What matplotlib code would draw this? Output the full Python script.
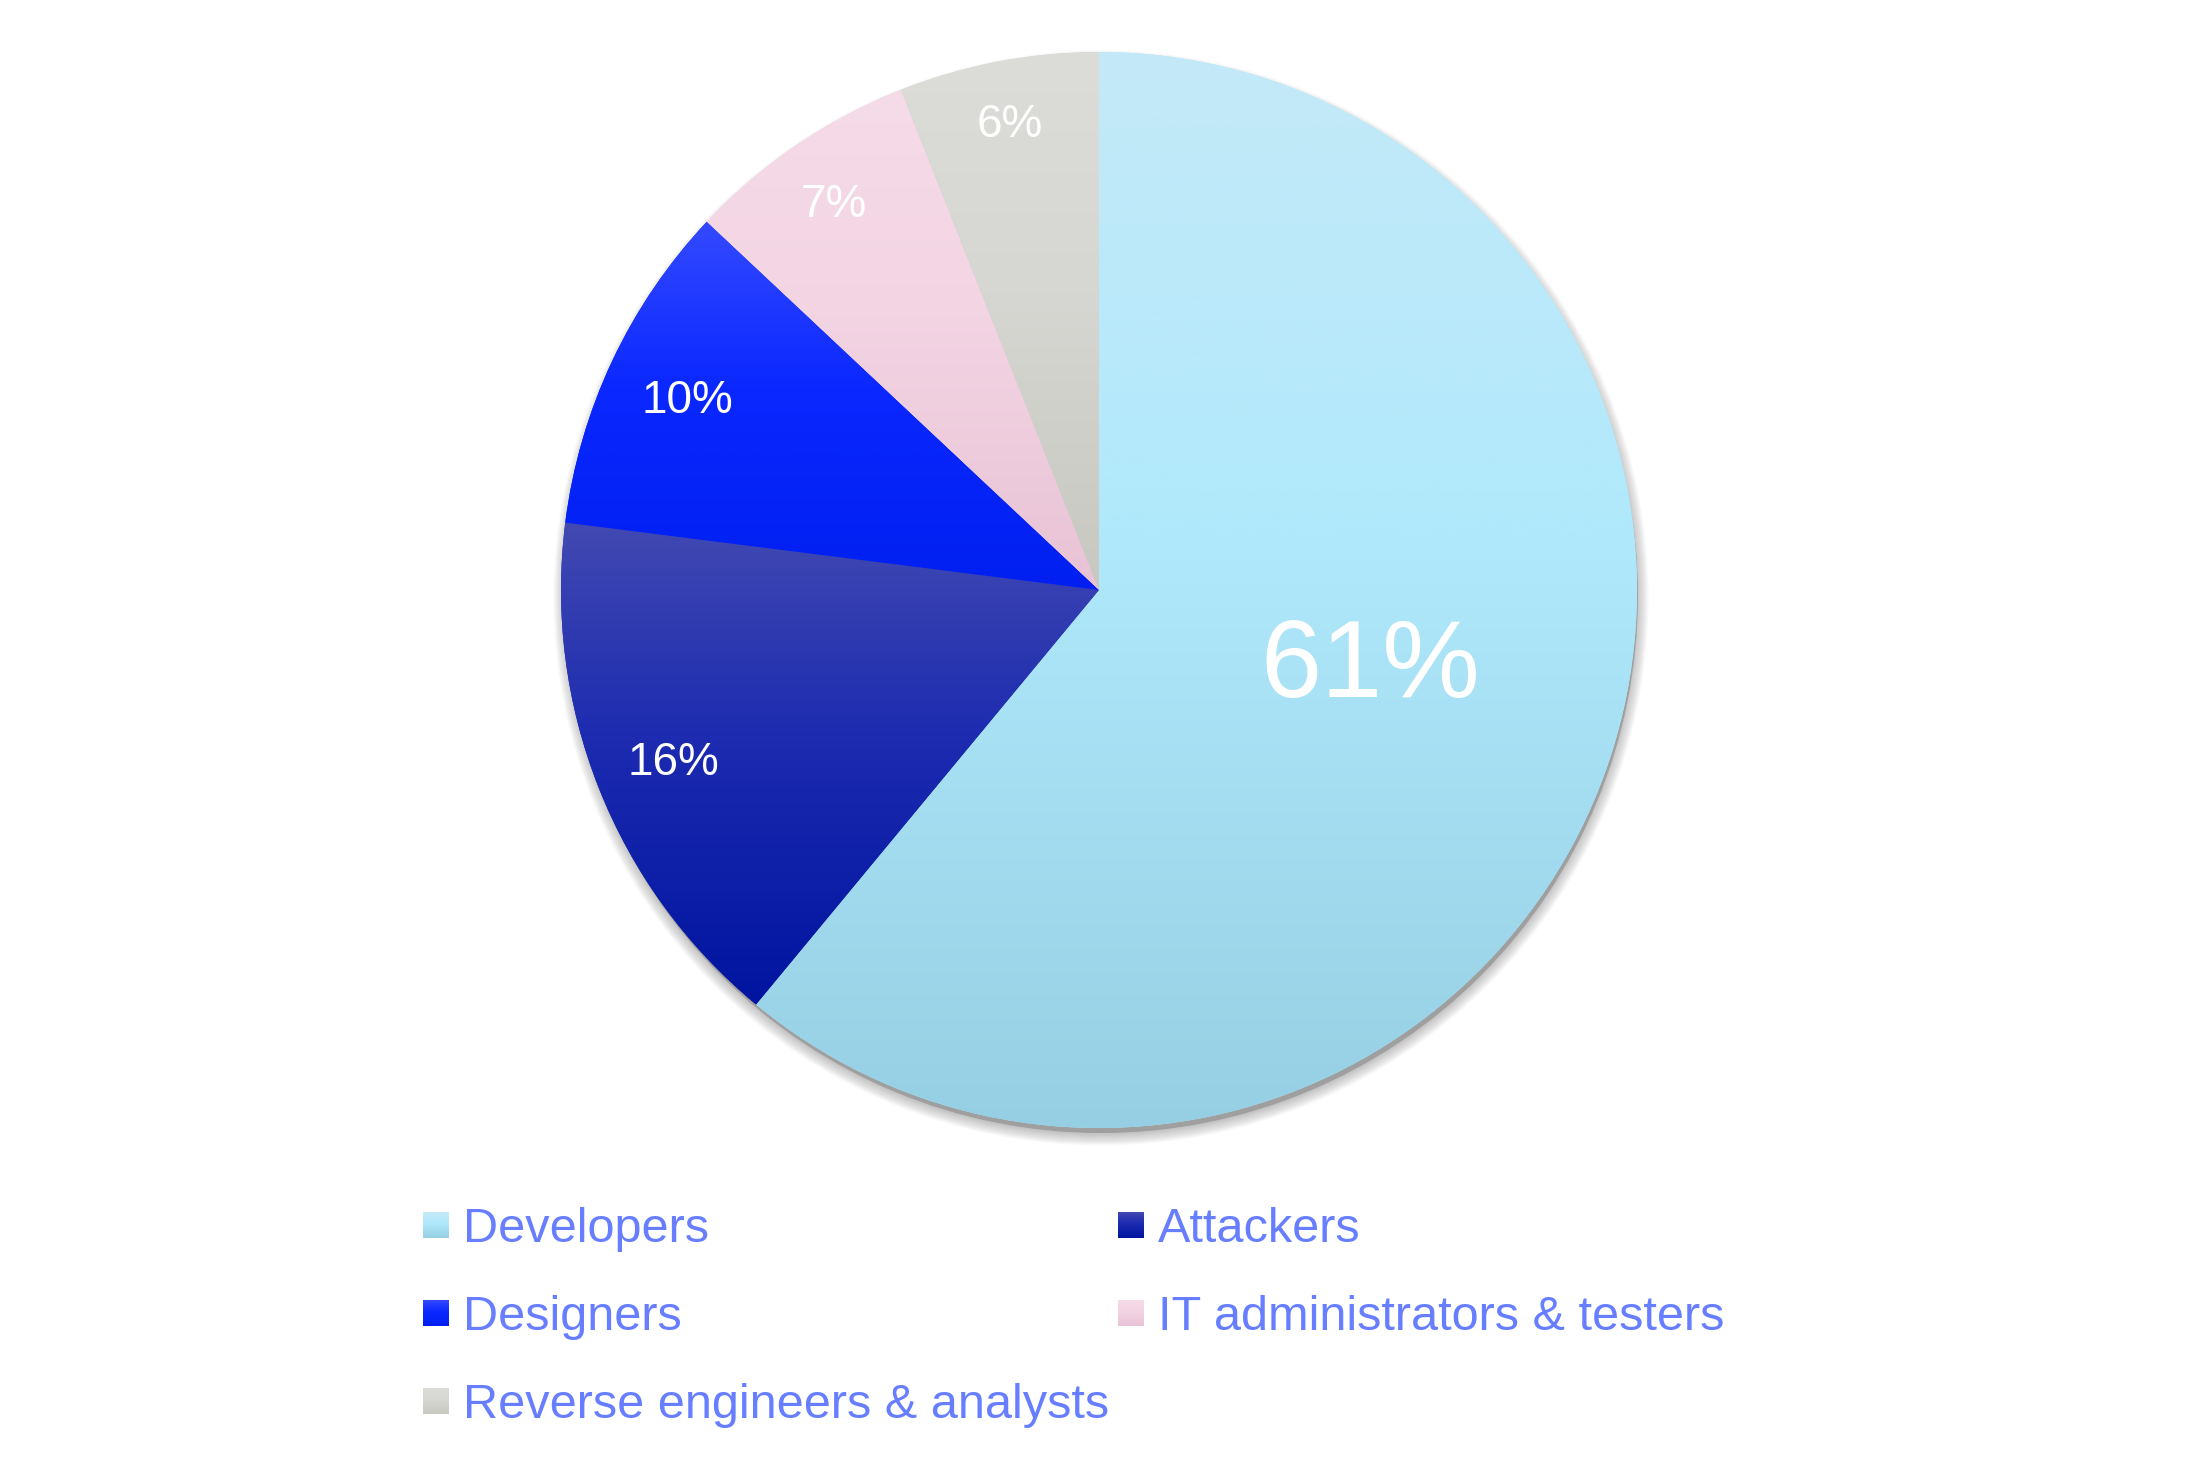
import numpy as np
import matplotlib
matplotlib.use("Agg")
import matplotlib.pyplot as plt
from matplotlib.colors import to_rgb
from matplotlib.patches import Circle

# ---- data ----
categories = ["Developers", "Attackers", "Designers",
              "IT administrators & testers", "Reverse engineers & analysts"]
shares = [61, 16, 10, 7, 6]
# gradient colours (top -> bottom) for each slice
grad_top = ["#c4e9f8", "#4249b2", "#3449ff", "#f6dbe8", "#dcdcd8"]
grad_mid = ["#b0e9fc", "#1c2bb0", "#0a28ff", "#f3d4e3", "#d6d6d2"]
grad_bot = ["#96cfe3", "#0014a0", "#001ff0", "#e8c3d5", "#c8c8c1"]

plt.rcParams['font.family'] = ['Liberation Sans', 'DejaVu Sans']

W, H = 2200, 1466
fig = plt.figure(figsize=(11, 7.33), dpi=200)
ax = fig.add_axes([0, 0, 1, 1])

cx, cy, R = 1099, H - 590, 538


def gradient_img(top, mid, bot, n=256):
    t = np.linspace(0, 1, n)[:, None]
    a, b, c = np.array(to_rgb(top)), np.array(to_rgb(mid)), np.array(to_rgb(bot))
    img = np.where(t < 0.45, a + (b - a) * (t / 0.45), b + (c - b) * ((t - 0.45) / 0.55))
    return img[:, None, :]


# soft shadow (mostly below the pie)
for d in range(14, 0, -1):
    ax.add_patch(Circle((cx + 2, cy - 8), R - 3 + d * 0.9, color="#404040",
                        alpha=0.025, lw=0, zorder=1))
ax.add_patch(Circle((cx + 2, cy - 6), R - 1, color="#606060", alpha=0.35, lw=0, zorder=1))

wedges, texts, autotexts = ax.pie(
    shares, startangle=90, counterclock=False, center=(cx, cy), radius=R,
    colors=grad_mid, autopct='%.0f%%', pctdistance=0.86, frame=True,
    wedgeprops=dict(linewidth=0, antialiased=True),
    textprops=dict(color='white', fontsize=16.5))

for i, w in enumerate(wedges):
    w.set_zorder(2)
    verts = w.get_patch_transform().transform(w.get_path().vertices)
    x0, y0 = verts.min(axis=0)
    x1, y1 = verts.max(axis=0)
    im = ax.imshow(gradient_img(grad_top[i], grad_mid[i], grad_bot[i]),
                   extent=(x0, x1, y0, y1), origin='upper', aspect='auto',
                   interpolation='bilinear', zorder=3)
    im.set_clip_path(w)

# label placement
pct_r = [0.52, 0.85, 0.846, 0.876, 0.89]
for i, (w, t) in enumerate(zip(wedges, autotexts)):
    ang = np.deg2rad((w.theta1 + w.theta2) / 2)
    if i == 0:
        ang = np.deg2rad(-14)
    t.set_position((cx + pct_r[i] * R * np.cos(ang), cy + pct_r[i] * R * np.sin(ang)))
    t.set_zorder(5)
    t.set_va('center_baseline')
autotexts[0].set_fontsize(39.5)

# legend
legend_color = "#667eff"
col_x = [423, 1118]
row_y = [1225, 1313, 1401]
sq = 26
for i, name in enumerate(categories):
    c, r = i % 2, i // 2
    mx = col_x[c]
    my = H - row_y[r]
    ax.imshow(gradient_img(grad_top[i], grad_mid[i], grad_bot[i]),
              extent=(mx, mx + sq, my - sq / 2, my + sq / 2), origin='upper',
              aspect='auto', interpolation='bilinear', zorder=3)
    ax.text(mx + sq + 14, my, name, color=legend_color, fontsize=17.5,
            ha='left', va='center_baseline', zorder=5)

ax.set_xlim(0, W)
ax.set_ylim(0, H)
ax.set_aspect('auto')
ax.axis('off')
fig.savefig("out.png", dpi=200, facecolor='white')
